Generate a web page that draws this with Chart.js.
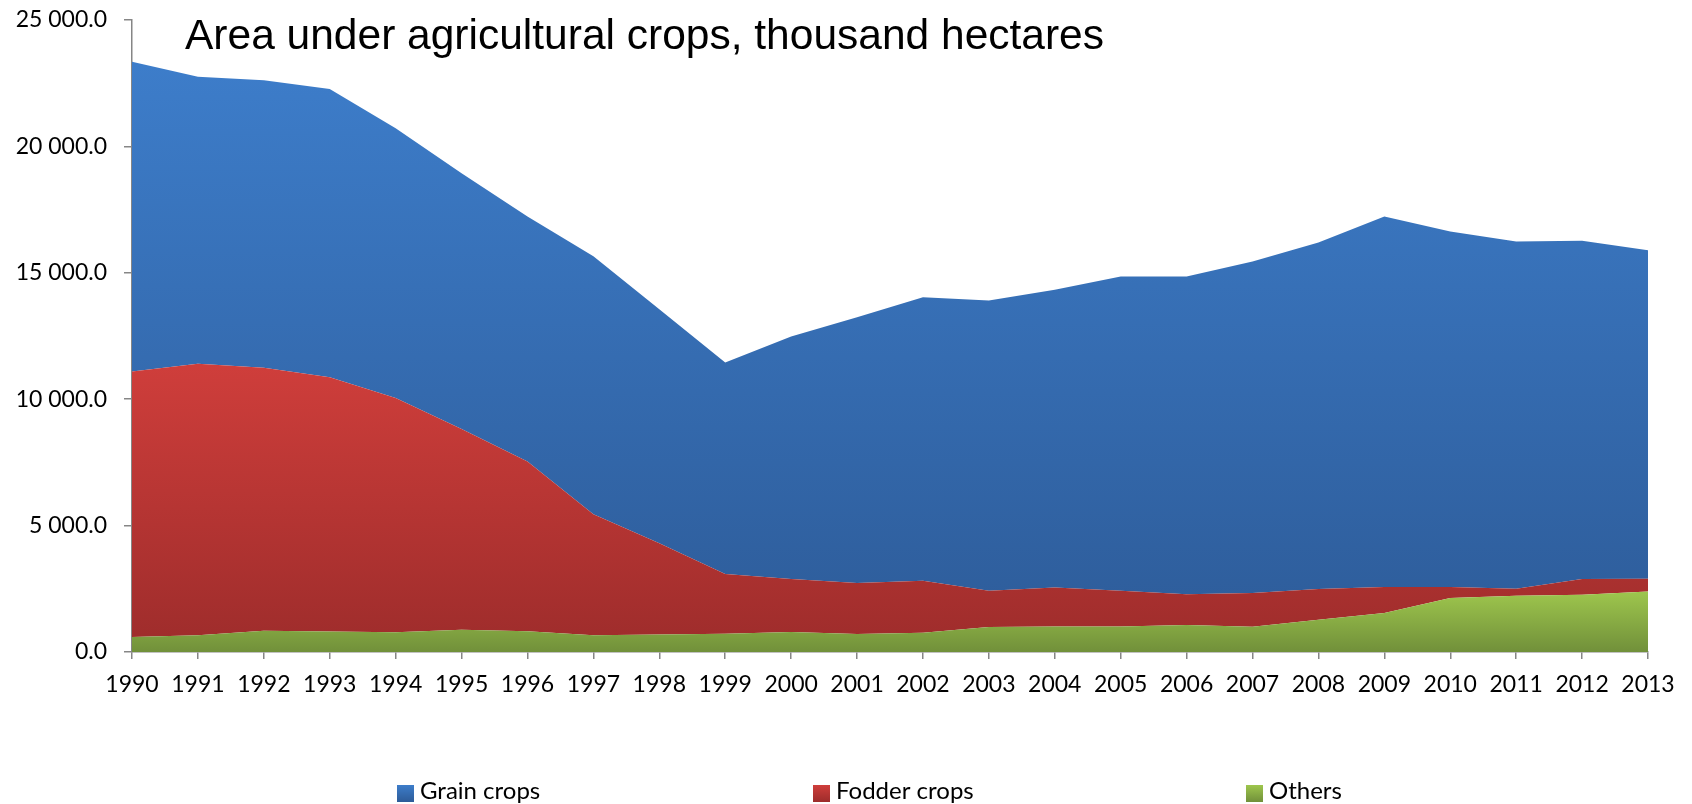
<!DOCTYPE html>
<html><head><meta charset="utf-8">
<script src="https://cdn.jsdelivr.net/npm/chart.js@4.4.1/dist/chart.umd.min.js"></script>
<style>html,body{margin:0;padding:0;background:#fff;} #c{display:block;}</style>
</head><body>
<canvas id="c" width="1692" height="804"></canvas>
<script>
// ---- data ----
const years = ['1990','1991','1992','1993','1994','1995','1996','1997','1998','1999','2000','2001',
               '2002','2003','2004','2005','2006','2007','2008','2009','2010','2011','2012','2013'];
const grainCrops  = [12257,11359,11375,11400,10675,10122,9688,10200,9261,8367,9594,10517,
                     11217,11479,11772,12427,12566,13114,13710,14654,14061,13732,13377,12995];
const fodderCrops = [10502,10741,10396,10067,9265,7933,6719,4785,3603,2360,2095,2016,
                     2056,1436,1542,1412,1215,1331,1213,1029,435,277,621,504];
const others      = [593,659,845,806,778,884,817,665,696,724,791,712,
                     763,988,1012,1012,1070,1000,1277,1541,2135,2226,2265,2396];
const seriesNames = ['Grain crops','Fodder crops','Others'];
const yMin = 0, yMax = 25000, yStep = 5000;
const titleText = 'Area under agricultural crops, thousand hectares';

// ---- styling ----
const colors = {
  grain:  ['#3D7DCA', '#2D5B98'],
  fodder: ['#CF3E3B', '#9D2C2B'],
  others: ['#9EC64D', '#71903A']
};
const cumOthers = others.slice();
const cumFodder = others.map((v,i)=>v+fodderCrops[i]);
const cumGrain  = cumFodder.map((v,i)=>v+grainCrops[i]);

function makeGrad(cum, c) {
  return function(ctx) {
    const chart = ctx.chart;
    if (!chart.chartArea) return c[1];
    const ys = chart.scales.y;
    const top = ys.getPixelForValue(Math.max(...cum));
    const bot = ys.getPixelForValue(0);
    const g = chart.ctx.createLinearGradient(0, top, 0, bot);
    g.addColorStop(0, c[0]); g.addColorStop(1, c[1]);
    return g;
  };
}

function fmt(v) {
  const s = Number(v).toFixed(1);
  const parts = s.split('.');
  return parts[0].replace(/\B(?=(\d{3})+(?!\d))/g, ' ') + '.' + parts[1];
}

const overlay = {
  id: 'overlay',
  afterDraw(chart) {
    const ctx = chart.ctx;
    ctx.save();
    // title
    ctx.fillStyle = '#000';
    ctx.font = '42.5px "Liberation Sans", Arial, sans-serif';
    ctx.textBaseline = 'alphabetic';
    ctx.textAlign = 'left';
    ctx.fillText(titleText, 185, 49);
    // legend
    const items = [
      {name: seriesNames[0], c: colors.grain,  x: 397},
      {name: seriesNames[1], c: colors.fodder, x: 813},
      {name: seriesNames[2], c: colors.others, x: 1246}
    ];
    ctx.font = '24px Lato, "Open Sans", sans-serif';
    items.forEach(it => {
      const g = ctx.createLinearGradient(0, 785, 0, 802);
      g.addColorStop(0, it.c[0]); g.addColorStop(1, it.c[1]);
      ctx.fillStyle = g;
      ctx.fillRect(it.x, 785, 17, 17);
      ctx.fillStyle = '#000';
      ctx.fillText(it.name, it.x + 23, 799);
    });
    ctx.restore();
  }
};

new Chart(document.getElementById('c'), {
  type: 'line',
  data: {
    labels: years,
    datasets: [
      {label: seriesNames[2], data: others, fill: 'origin', backgroundColor: makeGrad(cumOthers, colors.others)},
      {label: seriesNames[1], data: fodderCrops, fill: '-1', backgroundColor: makeGrad(cumFodder, colors.fodder)},
      {label: seriesNames[0], data: grainCrops, fill: '-1', backgroundColor: makeGrad(cumGrain, colors.grain)}
    ].map(d => Object.assign(d, {borderWidth: 0, borderColor: 'rgba(0,0,0,0)', pointRadius: 0, pointHoverRadius: 0, tension: 0}))
  },
  options: {
    responsive: false,
    animation: false,
    events: [],
    layout: {padding: {left: 0, top: 20, right: 44, bottom: 0}},
    plugins: {legend: {display: false}, tooltip: {enabled: false}, title: {display: false}},
    scales: {
      x: {
        offset: false,
        grid: {display: true, drawOnChartArea: false, drawTicks: true, tickLength: 7, color: '#868686', lineWidth: 1.5},
        border: {display: true, color: '#868686', width: 1.5},
        ticks: {color: '#000', font: {family: 'Lato, "Open Sans", sans-serif', size: 23}, padding: 12, maxRotation: 0, autoSkip: false},
        afterFit(s) { s.height = 152; }
      },
      y: {
        stacked: true,
        min: yMin, max: yMax,
        grid: {display: true, drawOnChartArea: false, drawTicks: true, tickLength: 8, color: '#868686', lineWidth: 1.5},
        border: {display: true, color: '#868686', width: 1.5},
        ticks: {stepSize: yStep, color: '#000', font: {family: 'Lato, "Open Sans", sans-serif', size: 23}, padding: 17, callback: v => fmt(v)},
        afterFit(s) { s.width = 132; s.paddingTop = 0; s.paddingBottom = 0; }
      }
    }
  },
  plugins: [overlay]
});
</script>
</body></html>
